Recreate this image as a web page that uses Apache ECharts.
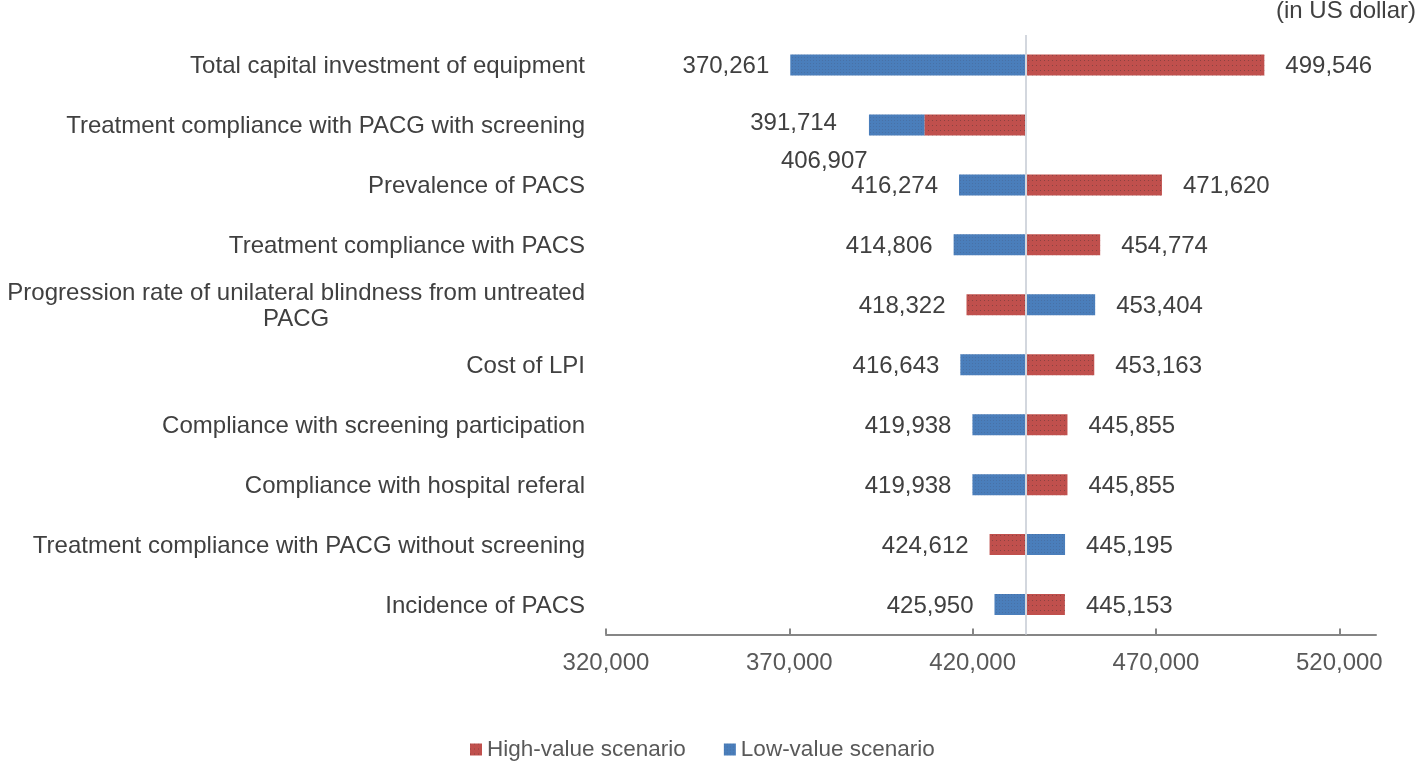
<!DOCTYPE html>
<html>
<head>
<meta charset="utf-8">
<script src="https://cdn.jsdelivr.net/npm/echarts@6/dist/echarts.min.js"></script>
<style>
html,body{margin:0;padding:0;background:#fff;}
#chart{width:1418px;height:764px;}
</style>
</head>
<body>
<div id="chart"></div>
<script>
const categories = [
  'Total capital investment of equipment',
  'Treatment compliance with PACG with screening',
  'Prevalence of PACS',
  'Treatment compliance with PACS',
  'Progression rate of unilateral blindness from untreated\nPACG',
  'Cost of LPI',
  'Compliance with screening participation',
  'Compliance with hospital referal',
  'Treatment compliance with PACG without screening',
  'Incidence of PACS'
];
const lowScenario  = [370261, 391714, 416274, 414806, 453404, 416643, 419938, 419938, 445195, 425950];
const highScenario = [499546, 406907, 471620, 454774, 418322, 453163, 445855, 445855, 424612, 445153];
const baseValue = 434600;
const xTicks = [320000, 370000, 420000, 470000, 520000];
const xMin = 320000, xMax = 530000, xStep = 50000;

const fmt = v => v.toLocaleString('en-US');
const FONT = 'Liberation Sans, Arial, sans-serif';
const BLUE = '#4a7ebb', RED = '#c0504d';

const offset = [], lowLeft = [], highLeft = [], lowRight = [], highRight = [];
categories.forEach((c, i) => {
  const lo = lowScenario[i], hi = highScenario[i];
  const L = Math.min(lo, hi), R = Math.max(lo, hi);
  offset.push(L);
  const lbl = (pos, v, extra) => Object.assign({show: true, position: pos, distance: 21, offset: [0, 1.5], formatter: fmt(v)}, extra || {});
  if (L < baseValue && R > baseValue) {
    if (lo < hi) {
      lowLeft.push({value: baseValue - lo, label: lbl('left', lo)});
      highLeft.push(0); lowRight.push(0);
      highRight.push({value: hi - baseValue, label: lbl('right', hi)});
    } else {
      lowLeft.push(0);
      highLeft.push({value: baseValue - hi, label: lbl('left', hi)});
      lowRight.push({value: lo - baseValue, label: lbl('right', lo)});
      highRight.push(0);
    }
  } else {
    // both below the base value
    lowLeft.push({value: hi - lo, label: lbl('left', lo, {distance: 32, offset: [0, -2]})});
    highLeft.push({value: baseValue - hi, label: lbl('left', hi, {distance: 57, offset: [0, 36]})});
    lowRight.push(0); highRight.push(0);
  }
});

const blueDecal = {symbol: 'rect', symbolSize: 1, dashArrayX: [1, 2], dashArrayY: [1, 2], color: 'rgba(70,70,90,0.22)'};
const redDecal = {symbol: 'rect', symbolSize: 1, dashArrayX: [1, 3], dashArrayY: [1, 4], color: 'rgba(40,40,40,0.35)'};

const labelStyle = {color: '#404040', fontSize: 24, fontFamily: FONT};
function seg(name, data, color, decal) {
  return {
    name, type: 'bar', stack: 'tornado', barWidth: 21, data,
    itemStyle: {color, decal},
    label: Object.assign({show: false}, labelStyle),
    emphasis: {disabled: true}
  };
}

const chart = echarts.init(document.getElementById('chart'), null, {renderer: 'canvas'});
chart.setOption({
  animation: false,
  backgroundColor: '#ffffff',
  textStyle: {fontFamily: FONT},
  grid: {left: 606, right: 42, top: 35, bottom: 129.5, containLabel: false},
  legend: {
    data: ['High-value scenario', 'Low-value scenario'],
    left: 470, top: 738, padding: 0, icon: 'rect', itemWidth: 12, itemHeight: 12, itemGap: 38,
    textStyle: {color: '#595959', fontSize: 22.5, fontFamily: FONT}
  },
  graphic: [{
    type: 'text', right: 2, top: -1,
    style: {text: '(in US dollar)', fill: '#404040', font: '24px ' + FONT}
  }],
  xAxis: {
    type: 'value', min: xMin, max: xMax, interval: xStep,
    splitLine: {show: false},
    axisLine: {show: true, lineStyle: {color: '#868686', width: 2}},
    axisTick: {show: true, inside: true, length: 6, customValues: xTicks, lineStyle: {color: '#868686', width: 2}},
    axisLabel: {customValues: xTicks, formatter: v => fmt(v), color: '#595959', fontSize: 24, fontFamily: FONT, margin: 17}
  },
  yAxis: {
    type: 'category', inverse: true, data: categories,
    axisLine: {show: false}, axisTick: {show: false},
    axisLabel: {
      color: '#404040', fontSize: 24, fontFamily: FONT, margin: 21, lineHeight: 26, padding: [3, 0, 0, 0],
      formatter: v => v.indexOf('\n') >= 0 ? v.split('\n').map(s => '{c|' + s + '}').join('\n') : v,
      rich: {c: {align: 'center', fontSize: 24, fontFamily: FONT, color: '#404040', lineHeight: 26}}
    }
  },
  series: [
    {
      name: 'base', type: 'bar', stack: 'tornado', barWidth: 21, data: offset,
      itemStyle: {color: 'rgba(0,0,0,0)'}, emphasis: {disabled: true}, silent: true,
      markLine: {
        silent: true, symbol: 'none', label: {show: false},
        lineStyle: {color: '#d3d7de', width: 2, type: 'solid'},
        data: [{xAxis: baseValue}], z: 10
      }
    },
    seg('Low-value scenario', lowLeft, BLUE, blueDecal),
    seg('High-value scenario', highLeft, RED, redDecal),
    seg('Low-value scenario', lowRight, BLUE, blueDecal),
    seg('High-value scenario', highRight, RED, redDecal)
  ]
});
</script>
</body>
</html>
